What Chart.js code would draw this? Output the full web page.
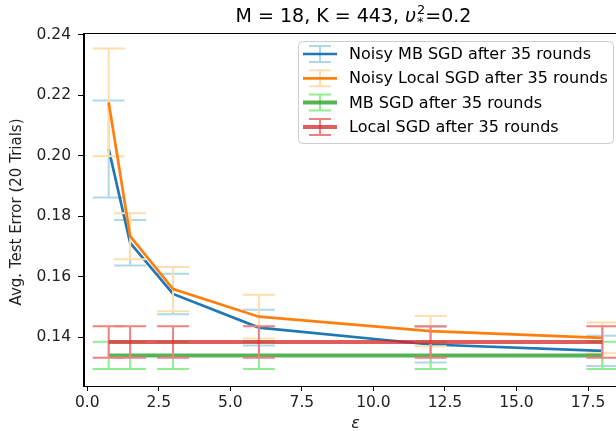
<!DOCTYPE html>
<html>
<head>
<meta charset="utf-8">
<script src="https://cdn.jsdelivr.net/npm/chart.js@4.4.0/dist/chart.umd.min.js"></script>
<style>
html,body{margin:0;padding:0;overflow:hidden;background:#fff;}
#wrap{width:627px;height:431px;}
</style>
</head>
<body>
<div id="wrap"><canvas id="c" width="627" height="431"></canvas></div>
<script>
// ---- data ----
const eps = [0.75, 1.5, 3, 6, 12, 18];
const noisyMB      = [0.2022, 0.1712, 0.1543, 0.1432, 0.1376, 0.1355];
const noisyMBErr   = [0.0160, 0.0075, 0.0067, 0.0059, 0.0059, 0.0050];
const noisyLocal    = [0.2176, 0.1734, 0.1559, 0.1468, 0.1420, 0.1398];
const noisyLocalErr = [0.0178, 0.0076, 0.0073, 0.0072, 0.0050, 0.0051];
const mbSGD      = [0.1340, 0.1340, 0.1340, 0.1340, 0.1340, 0.1340];
const mbSGDErr   = [0.0045, 0.0045, 0.0045, 0.0045, 0.0045, 0.0045];
const localSGD    = [0.1384, 0.1384, 0.1384, 0.1384, 0.1384, 0.1384];
const localSGDErr = [0.0052, 0.0052, 0.0052, 0.0052, 0.0052, 0.0052];
const seriesLabels = ['Noisy MB SGD after 35 rounds', 'Noisy Local SGD after 35 rounds', 'MB SGD after 35 rounds', 'Local SGD after 35 rounds'];
const xTicks = [0, 2.5, 5, 7.5, 10, 12.5, 15, 17.5];
const yTicks = [0.14, 0.16, 0.18, 0.20, 0.22, 0.24];
const yTitle = 'Avg. Test Error (20 Trials)';

const FONT = 'DejaVu Sans';
const styles = [
  {line:'#1f77b4', err:'#add8e6', w:2.7, order:4},
  {line:'#ff7f0e', err:'#ffdead', w:2.7, order:3},
  {line:'rgba(44,160,44,0.8)', err:'#90ee90', w:4, order:2},
  {line:'rgba(214,39,40,0.75)', err:'#f08080', w:4, order:1}
];
const means = [noisyMB, noisyLocal, mbSGD, localSGD];
const errs = [noisyMBErr, noisyLocalErr, mbSGDErr, localSGDErr];

const datasets = means.map((m, k) => ({
  label: seriesLabels[k],
  data: eps.map((x, i) => ({x: x, y: m[i]})),
  errors: errs[k],
  borderColor: styles[k].line,
  backgroundColor: styles[k].line,
  borderWidth: styles[k].w,
  errColor: styles[k].err,
  pointRadius: 0,
  tension: 0,
  fill: false,
  order: styles[k].order
}));

const errorBars = {
  id: 'errorBars',
  beforeDatasetDraw(chart, args) {
    const ds = chart.data.datasets[args.index];
    const xs = chart.scales.x, ys = chart.scales.y, ctx = chart.ctx;
    ctx.save();
    ctx.strokeStyle = ds.errColor;
    ctx.lineWidth = 2;
    const cap = 16;
    ds.data.forEach((p, i) => {
      const px = xs.getPixelForValue(p.x);
      const top = ys.getPixelForValue(p.y + ds.errors[i]);
      const bot = ys.getPixelForValue(p.y - ds.errors[i]);
      ctx.beginPath();
      ctx.moveTo(px, top); ctx.lineTo(px, bot);
      ctx.moveTo(px - cap, top); ctx.lineTo(px + cap, top);
      ctx.moveTo(px - cap, bot); ctx.lineTo(px + cap, bot);
      ctx.stroke();
    });
    ctx.restore();
  }
};

const frameAndText = {
  id: 'frameAndText',
  afterDraw(chart) {
    const ctx = chart.ctx, a = chart.chartArea;
    ctx.save();
    // frame
    ctx.strokeStyle = '#000';
    ctx.lineWidth = 1;
    ctx.strokeRect(Math.round(a.left) - 0.5, Math.round(a.top) + 0.5, a.right - a.left, Math.round(a.bottom) - Math.round(a.top));
    // y axis title
    ctx.save();
    ctx.translate(17.5, 212);
    ctx.rotate(-Math.PI / 2);
    ctx.font = '15px "' + FONT + '"';
    ctx.fillStyle = '#222';
    ctx.textAlign = 'center';
    ctx.textBaseline = 'middle';
    ctx.fillText(yTitle, 0, 0);
    ctx.restore();
    // title
    const cx = (a.left + a.right) / 2 - 2;
    const ty = 17;
    const big = 19, small = 13;
    const p1 = 'M = 18, K = 443, ', p2 = 'υ', p4 = '=0.2';
    ctx.fillStyle = '#000';
    ctx.textBaseline = 'middle';
    ctx.textAlign = 'left';
    ctx.font = big + 'px "' + FONT + '"';
    const w1 = ctx.measureText(p1).width, w4 = ctx.measureText(p4).width;
    ctx.font = 'italic ' + big + 'px "' + FONT + '"';
    const w2 = ctx.measureText(p2).width;
    ctx.font = small + 'px "' + FONT + '"';
    const w3 = Math.max(ctx.measureText('2').width, ctx.measureText('*').width) + 1;
    let x = cx - (w1 + w2 + w3 + w4) / 2;
    ctx.font = big + 'px "' + FONT + '"';
    ctx.fillText(p1, x, ty); x += w1;
    ctx.font = 'italic ' + big + 'px "' + FONT + '"';
    ctx.fillText(p2, x, ty); x += w2;
    ctx.font = small + 'px "' + FONT + '"';
    ctx.fillText('2', x + 1, ty - 6);
    ctx.fillText('*', x + 1, ty + 6);
    x += w3;
    ctx.font = big + 'px "' + FONT + '"';
    ctx.fillText(p4, x, ty);

    // legend
    const lx = 298, ly = 41, lw = 315, lh = 102;
    ctx.beginPath();
    ctx.roundRect(lx + 0.5, ly + 0.5, lw, lh, 4);
    ctx.fillStyle = 'rgba(255,255,255,0.8)';
    ctx.fill();
    ctx.strokeStyle = '#cccccc';
    ctx.lineWidth = 1;
    ctx.stroke();
    ctx.font = '16px "' + FONT + '"';
    chart.data.datasets.forEach((ds, k) => {
      const y = 54 + k * 24.3;
      const mx = 320;
      ctx.strokeStyle = ds.errColor;
      ctx.lineWidth = 2;
      ctx.beginPath();
      ctx.moveTo(mx, y - 8); ctx.lineTo(mx, y + 8);
      ctx.moveTo(mx - 11, y - 8); ctx.lineTo(mx + 11, y - 8);
      ctx.moveTo(mx - 11, y + 8); ctx.lineTo(mx + 11, y + 8);
      ctx.stroke();
      ctx.strokeStyle = ds.borderColor;
      ctx.lineWidth = ds.borderWidth;
      ctx.beginPath();
      ctx.moveTo(303, y); ctx.lineTo(337, y);
      ctx.stroke();
      ctx.fillStyle = '#000';
      ctx.textBaseline = 'middle';
      ctx.fillText(ds.label, 349, y + 1);
    });
    ctx.restore();
  }
};

new Chart(document.getElementById('c'), {
  type: 'line',
  data: {datasets: datasets},
  options: {
    responsive: false,
    animation: false,
    layout: {padding: {top: 33, left: 0, right: 0, bottom: 0}},
    plugins: {legend: {display: false}, tooltip: {enabled: false}, title: {display: false}},
    scales: {
      x: {
        type: 'linear',
        min: -0.1125, max: 18.8625,
        afterBuildTicks: s => { s.ticks = xTicks.map(v => ({value: v})); },
        afterFit: s => { s.height = 45; },
        ticks: {callback: v => Number(v).toFixed(1), font: {family: FONT, size: 15.5}, color: '#222', padding: 3, maxRotation: 0, autoSkip: false},
        grid: {drawOnChartArea: false, drawTicks: true, tickLength: 5, color: '#000', tickWidth: 1},
        border: {color: '#000', width: 1},
        title: {display: true, text: 'ε', color: '#222', font: {family: FONT, size: 16, style: 'italic', lineHeight: 1}, padding: {top: 0, bottom: -1}}
      },
      y: {
        type: 'linear',
        min: 0.1239, max: 0.2405,
        afterBuildTicks: s => { s.ticks = yTicks.map(v => ({value: v})); },
        afterFit: s => { s.width = 84; },
        ticks: {callback: v => Number(v).toFixed(2), font: {family: FONT, size: 15.5}, color: '#222', padding: 7, autoSkip: false},
        grid: {drawOnChartArea: false, drawTicks: true, tickLength: 6, color: '#000', tickWidth: 1},
        border: {color: '#000', width: 1},
        title: {display: false}
      }
    }
  },
  plugins: [errorBars, frameAndText]
});
</script>
</body>
</html>
